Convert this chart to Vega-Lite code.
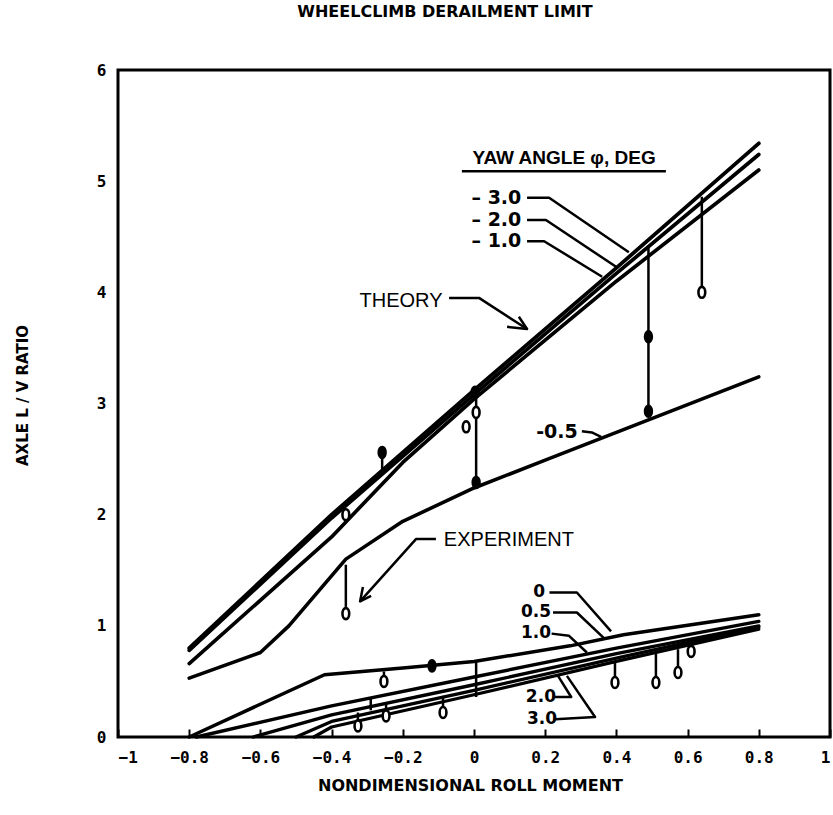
{
  "$schema": "https://vega.github.io/schema/vega-lite/v6.json",
  "width": 712,
  "height": 667,
  "autosize": "none",
  "padding": {"left": 118, "top": 70, "right": 3, "bottom": 78},
  "background": "white",
  "config": {
    "view": {"stroke": "black", "strokeWidth": 3},
    "axis": {"grid": false, "domain": false, "labelColor": "black", "titleColor": "black", "tickColor": "black"}
  },
  "title": {"text": "WHEELCLIMB DERAILMENT LIMIT", "font": "DejaVu Sans", "fontWeight": "bold", "fontSize": 16, "offset": 42, "dx": -29, "color": "black"},
  "datasets": {
    "curves": [
      {"c": "-3.0", "x": -0.8, "y": 0.80}, {"c": "-3.0", "x": -0.4, "y": 2.00}, {"c": "-3.0", "x": 0, "y": 3.12}, {"c": "-3.0", "x": 0.4, "y": 4.22}, {"c": "-3.0", "x": 0.8, "y": 5.34},
      {"c": "-2.0", "x": -0.8, "y": 0.78}, {"c": "-2.0", "x": -0.4, "y": 1.97}, {"c": "-2.0", "x": 0, "y": 3.08}, {"c": "-2.0", "x": 0.4, "y": 4.17}, {"c": "-2.0", "x": 0.8, "y": 5.24},
      {"c": "-1.0", "x": -0.8, "y": 0.66}, {"c": "-1.0", "x": -0.4, "y": 1.80}, {"c": "-1.0", "x": -0.2, "y": 2.47}, {"c": "-1.0", "x": 0, "y": 3.04}, {"c": "-1.0", "x": 0.4, "y": 4.10}, {"c": "-1.0", "x": 0.8, "y": 5.10},
      {"c": "-0.5", "x": -0.8, "y": 0.53}, {"c": "-0.5", "x": -0.6, "y": 0.76}, {"c": "-0.5", "x": -0.52, "y": 1.0}, {"c": "-0.5", "x": -0.36, "y": 1.60}, {"c": "-0.5", "x": -0.2, "y": 1.94}, {"c": "-0.5", "x": 0, "y": 2.24}, {"c": "-0.5", "x": 0.2, "y": 2.49}, {"c": "-0.5", "x": 0.4, "y": 2.74}, {"c": "-0.5", "x": 0.6, "y": 2.99}, {"c": "-0.5", "x": 0.8, "y": 3.24},
      {"c": "0", "x": -0.8, "y": 0}, {"c": "0", "x": -0.42, "y": 0.56}, {"c": "0", "x": -0.2, "y": 0.62}, {"c": "0", "x": 0, "y": 0.68}, {"c": "0", "x": 0.27, "y": 0.82}, {"c": "0", "x": 0.42, "y": 0.92}, {"c": "0", "x": 0.8, "y": 1.10},
      {"c": "0.5", "x": -0.78, "y": 0}, {"c": "0.5", "x": -0.4, "y": 0.28}, {"c": "0.5", "x": 0, "y": 0.54}, {"c": "0.5", "x": 0.4, "y": 0.80}, {"c": "0.5", "x": 0.8, "y": 1.04},
      {"c": "1.0", "x": -0.62, "y": 0}, {"c": "1.0", "x": -0.4, "y": 0.20}, {"c": "1.0", "x": 0, "y": 0.47}, {"c": "1.0", "x": 0.4, "y": 0.75}, {"c": "1.0", "x": 0.8, "y": 1.0},
      {"c": "2.0", "x": -0.5, "y": 0}, {"c": "2.0", "x": -0.4, "y": 0.14}, {"c": "2.0", "x": 0, "y": 0.42}, {"c": "2.0", "x": 0.4, "y": 0.71}, {"c": "2.0", "x": 0.8, "y": 0.99},
      {"c": "3.0", "x": -0.45, "y": 0}, {"c": "3.0", "x": -0.4, "y": 0.09}, {"c": "3.0", "x": 0, "y": 0.38}, {"c": "3.0", "x": 0.4, "y": 0.68}, {"c": "3.0", "x": 0.8, "y": 0.97}
    ],
    "bars": [
      {"x": -0.36, "y": 1.17, "y2": 1.55}, {"x": -0.258, "y": 2.36, "y2": 2.52}, {"x": 0.006, "y": 2.29, "y2": 3.12}, {"x": 0.49, "y": 2.92, "y2": 4.40}, {"x": 0.64, "y": 4.05, "y2": 4.86},
      {"x": -0.253, "y": 0.52, "y2": 0.59}, {"x": 0.006, "y": 0.36, "y2": 0.68}, {"x": -0.087, "y": 0.25, "y2": 0.37}, {"x": -0.247, "y": 0.21, "y2": 0.30}, {"x": -0.326, "y": 0.12, "y2": 0.22}, {"x": -0.29, "y": 0.24, "y2": 0.36},
      {"x": 0.396, "y": 0.51, "y2": 0.67}, {"x": 0.511, "y": 0.51, "y2": 0.75}, {"x": 0.573, "y": 0.60, "y2": 0.79}, {"x": 0.61, "y": 0.79, "y2": 0.82}
    ],
    "markers": [
      {"x": -0.36, "y": 2.00, "f": "open"}, {"x": -0.36, "y": 1.11, "f": "open"}, {"x": -0.258, "y": 2.56, "f": "filled"},
      {"x": -0.022, "y": 2.79, "f": "open"}, {"x": 0.006, "y": 2.92, "f": "open"}, {"x": 0.003, "y": 3.10, "f": "filled"}, {"x": 0.006, "y": 2.29, "f": "filled"},
      {"x": 0.49, "y": 3.60, "f": "filled"}, {"x": 0.49, "y": 2.93, "f": "filled"}, {"x": 0.64, "y": 4.00, "f": "open"},
      {"x": -0.253, "y": 0.50, "f": "open"}, {"x": -0.118, "y": 0.64, "f": "filled"}, {"x": -0.087, "y": 0.22, "f": "open"}, {"x": -0.247, "y": 0.19, "f": "open"}, {"x": -0.326, "y": 0.10, "f": "open"},
      {"x": 0.396, "y": 0.49, "f": "open"}, {"x": 0.511, "y": 0.49, "f": "open"}, {"x": 0.573, "y": 0.58, "f": "open"}, {"x": 0.61, "y": 0.77, "f": "open"}
    ],
    "bigText": [
      {"x": -0.205, "y": 3.92, "t": "THEORY"},
      {"x": 0.098, "y": 1.77, "t": "EXPERIMENT"}
    ],
    "numText": [
      {"x": 0.063, "y": 4.85, "t": "– 3.0"}, {"x": 0.063, "y": 4.65, "t": "– 2.0"}, {"x": 0.063, "y": 4.46, "t": "– 1.0"},
      {"x": 0.233, "y": 2.74, "t": "-0.5"}
    ],
    "lowText": [
      {"x": 0.183, "y": 1.30, "t": "0"}, {"x": 0.174, "y": 1.12, "t": "0.5"}, {"x": 0.174, "y": 0.94, "t": "1.0"},
      {"x": 0.188, "y": 0.36, "t": "2.0"}, {"x": 0.191, "y": 0.16, "t": "3.0"}
    ],
    "heading": [{"x": 0.253, "y": 5.21, "t": "YAW ANGLE φ, DEG"}],
    "underline": [{"x": -0.034, "x2": 0.539, "y": 5.09}],
    "leaders": [
      {"id": "L3", "o": 1, "x": 0.149, "y": 4.85}, {"id": "L3", "o": 2, "x": 0.211, "y": 4.85}, {"id": "L3", "o": 3, "x": 0.435, "y": 4.36},
      {"id": "L2", "o": 1, "x": 0.149, "y": 4.65}, {"id": "L2", "o": 2, "x": 0.202, "y": 4.65}, {"id": "L2", "o": 3, "x": 0.399, "y": 4.23},
      {"id": "L1", "o": 1, "x": 0.149, "y": 4.46}, {"id": "L1", "o": 2, "x": 0.197, "y": 4.46}, {"id": "L1", "o": 3, "x": 0.36, "y": 4.14},
      {"id": "TH", "o": 1, "x": -0.07, "y": 3.95}, {"id": "TH", "o": 2, "x": 0.014, "y": 3.95}, {"id": "TH", "o": 3, "x": 0.149, "y": 3.67},
      {"id": "THa", "o": 1, "x": 0.093, "y": 3.69}, {"id": "THa", "o": 2, "x": 0.149, "y": 3.67}, {"id": "THa", "o": 3, "x": 0.126, "y": 3.78},
      {"id": "L05", "o": 1, "x": 0.303, "y": 2.75}, {"id": "L05", "o": 2, "x": 0.331, "y": 2.74}, {"id": "L05", "o": 3, "x": 0.357, "y": 2.70},
      {"id": "EX", "o": 1, "x": -0.107, "y": 1.78}, {"id": "EX", "o": 2, "x": -0.163, "y": 1.78}, {"id": "EX", "o": 3, "x": -0.32, "y": 1.22},
      {"id": "EXa", "o": 1, "x": -0.312, "y": 1.35}, {"id": "EXa", "o": 2, "x": -0.32, "y": 1.22}, {"id": "EXa", "o": 3, "x": -0.289, "y": 1.27},
      {"id": "Lo0", "o": 1, "x": 0.212, "y": 1.30}, {"id": "Lo0", "o": 2, "x": 0.289, "y": 1.30}, {"id": "Lo0", "o": 3, "x": 0.385, "y": 0.95},
      {"id": "Lo05", "o": 1, "x": 0.222, "y": 1.12}, {"id": "Lo05", "o": 2, "x": 0.289, "y": 1.12}, {"id": "Lo05", "o": 3, "x": 0.368, "y": 0.88},
      {"id": "Lo1", "o": 1, "x": 0.218, "y": 0.93}, {"id": "Lo1", "o": 2, "x": 0.267, "y": 0.91}, {"id": "Lo1", "o": 3, "x": 0.317, "y": 0.76},
      {"id": "Lo2", "o": 1, "x": 0.226, "y": 0.36}, {"id": "Lo2", "o": 2, "x": 0.273, "y": 0.36}, {"id": "Lo2", "o": 3, "x": 0.236, "y": 0.55},
      {"id": "Lo3", "o": 1, "x": 0.228, "y": 0.16}, {"id": "Lo3", "o": 2, "x": 0.340, "y": 0.18}, {"id": "Lo3", "o": 3, "x": 0.261, "y": 0.55}
    ]
  },
  "layer": [
    {
      "data": {"name": "curves"},
      "mark": {"type": "line", "color": "black", "strokeCap": "round", "strokeJoin": "round"},
      "encoding": {
        "x": {"field": "x", "type": "quantitative", "scale": {"domain": [-1, 1], "nice": false},
          "axis": {"values": [-1, -0.8, -0.6, -0.4, -0.2, 0, 0.2, 0.4, 0.6, 0.8, 1], "format": "~g", "tickSize": -8, "tickWidth": 2, "labelPadding": 20, "labelFont": "DejaVu Sans Mono", "labelFontWeight": "bold", "labelFontSize": 16,
            "title": "NONDIMENSIONAL ROLL MOMENT", "titleFont": "DejaVu Sans", "titleFontWeight": "bold", "titleFontSize": 16, "titleX": 352, "titleY": 48, "titleBaseline": "middle", "titleAnchor": "middle"}},
        "y": {"field": "y", "type": "quantitative", "scale": {"domain": [0, 6], "nice": false},
          "axis": {"values": [0, 1, 2, 3, 4, 5, 6], "format": "d", "tickSize": 0, "labelPadding": 12, "labelFont": "DejaVu Sans Mono", "labelFontWeight": "bold", "labelFontSize": 16,
            "title": "AXLE L / V RATIO", "titleFont": "DejaVu Sans", "titleFontWeight": "bold", "titleFontSize": 15, "titleX": -96, "titleY": 325, "titleBaseline": "middle", "titleAngle": -90}},
        "detail": {"field": "c"},
        "strokeWidth": {"field": "c", "type": "nominal", "scale": {"domain": ["-3.0", "-2.0", "-1.0", "-0.5", "0", "0.5", "1.0", "2.0", "3.0"], "range": [3.8, 3.2, 2.6, 3.2, 3.2, 3.2, 3.2, 3.2, 3.2]}, "legend": null}
      }
    },
    {
      "data": {"name": "bars"},
      "mark": {"type": "rule", "color": "black", "strokeWidth": 2.5},
      "encoding": {"x": {"field": "x", "type": "quantitative"}, "y": {"field": "y", "type": "quantitative"}, "y2": {"field": "y2"}}
    },
    {
      "data": {"name": "markers"},
      "mark": {"type": "point", "shape": "M0,-1A0.62,1 0 1,1 0,1A0.62,1 0 1,1 0,-1Z", "size": 120, "stroke": "black", "strokeWidth": 2.6, "opacity": 1},
      "encoding": {
        "x": {"field": "x", "type": "quantitative"},
        "y": {"field": "y", "type": "quantitative"},
        "fill": {"field": "f", "type": "nominal", "scale": {"domain": ["open", "filled"], "range": ["white", "black"]}, "legend": null}
      }
    },
    {
      "data": {"name": "leaders"},
      "mark": {"type": "line", "color": "black", "strokeWidth": 2.5, "strokeJoin": "round"},
      "encoding": {"x": {"field": "x", "type": "quantitative"}, "y": {"field": "y", "type": "quantitative"}, "detail": {"field": "id"}, "order": {"field": "o"}}
    },
    {
      "data": {"name": "underline"},
      "mark": {"type": "rule", "color": "black", "strokeWidth": 2.5},
      "encoding": {"x": {"field": "x", "type": "quantitative"}, "x2": {"field": "x2"}, "y": {"field": "y", "type": "quantitative"}}
    },
    {
      "data": {"name": "bigText"},
      "mark": {"type": "text", "font": "Liberation Sans", "fontSize": 20, "align": "center", "baseline": "middle", "color": "black"},
      "encoding": {"x": {"field": "x", "type": "quantitative"}, "y": {"field": "y", "type": "quantitative"}, "text": {"field": "t"}}
    },
    {
      "data": {"name": "numText"},
      "mark": {"type": "text", "font": "DejaVu Sans", "fontWeight": "bold", "fontSize": 19, "align": "center", "baseline": "middle", "color": "black"},
      "encoding": {"x": {"field": "x", "type": "quantitative"}, "y": {"field": "y", "type": "quantitative"}, "text": {"field": "t"}}
    },
    {
      "data": {"name": "lowText"},
      "mark": {"type": "text", "font": "DejaVu Sans", "fontWeight": "bold", "fontSize": 17, "align": "center", "baseline": "middle", "color": "black"},
      "encoding": {"x": {"field": "x", "type": "quantitative"}, "y": {"field": "y", "type": "quantitative"}, "text": {"field": "t"}}
    },
    {
      "data": {"name": "heading"},
      "mark": {"type": "text", "font": "Liberation Sans", "fontWeight": "bold", "fontSize": 19, "align": "center", "baseline": "middle", "color": "black"},
      "encoding": {"x": {"field": "x", "type": "quantitative"}, "y": {"field": "y", "type": "quantitative"}, "text": {"field": "t"}}
    }
  ]
}
